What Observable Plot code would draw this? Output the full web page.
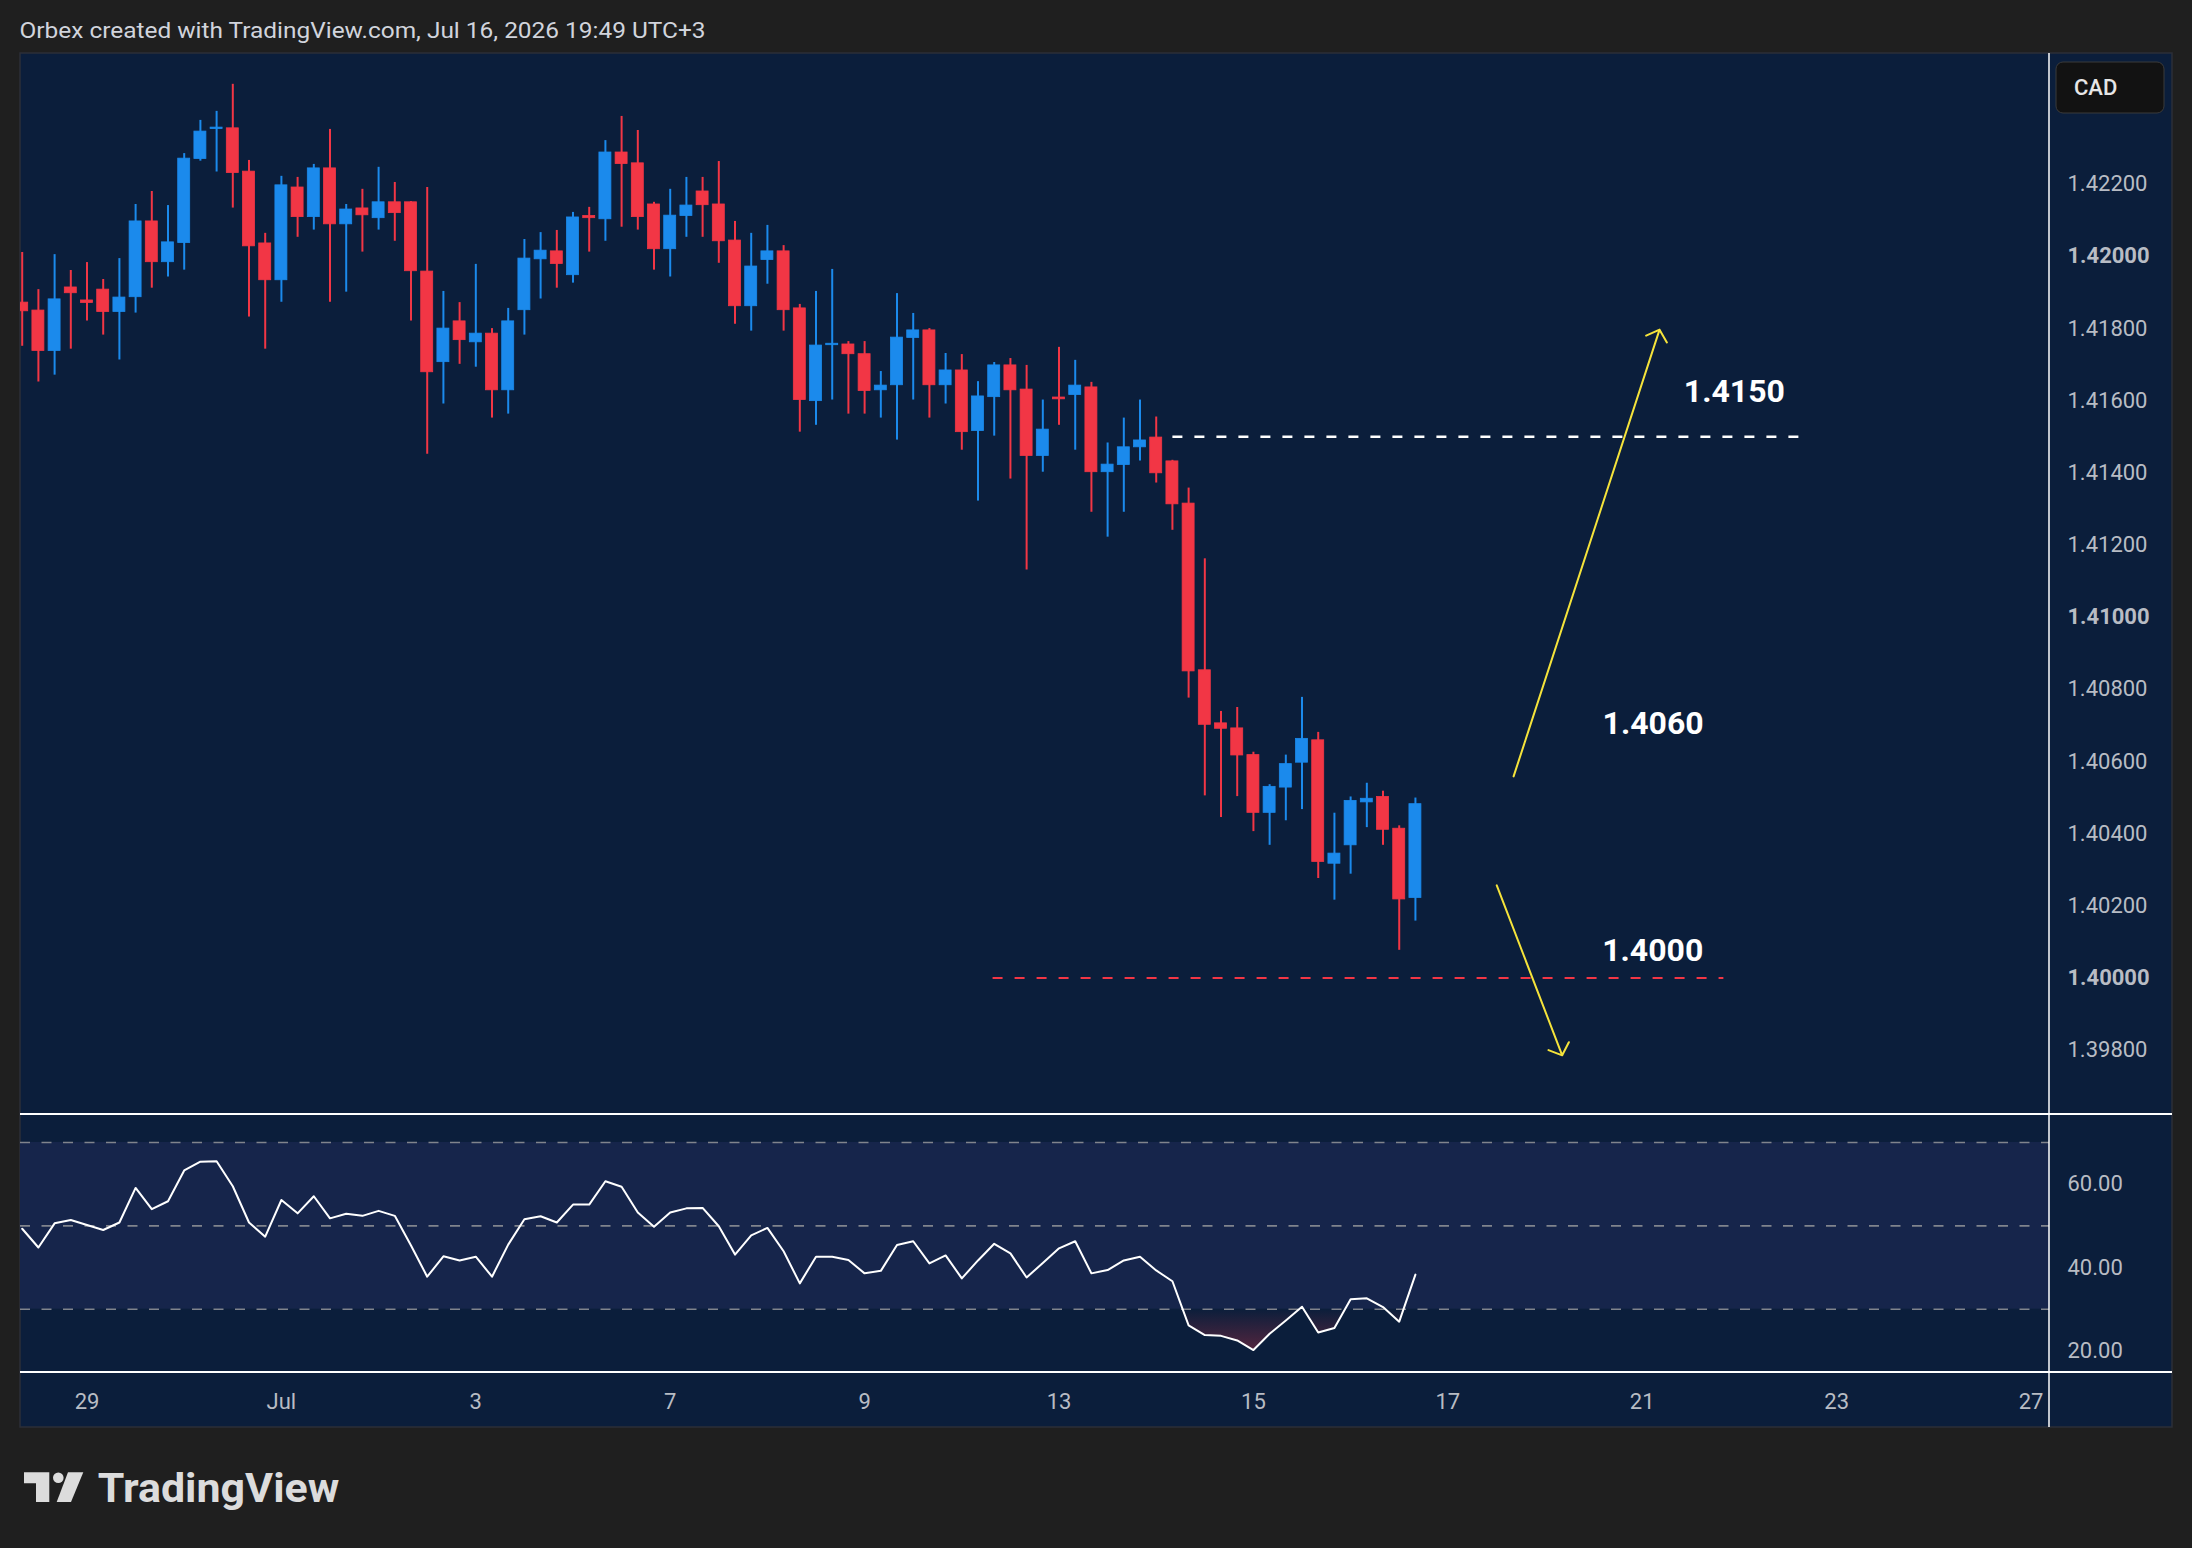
<!DOCTYPE html>
<html>
<head>
<meta charset="utf-8">
<title>USD/CAD 4H</title>
<script src="https://cdn.jsdelivr.net/npm/d3@7"></script>
<script src="https://cdn.jsdelivr.net/npm/@observablehq/plot@0.6"></script>
<style>
  html, body { margin: 0; padding: 0; background: #1f1f1f; }
  #page { position: relative; width: 2192px; height: 1548px; background: #1f1f1f; overflow: hidden; font-family: Roboto, sans-serif; }
  .layer { position: absolute; }
</style>
</head>
<body>
<div id="page">
  <svg id="chrome" class="layer" width="2192" height="1548" style="left:0;top:0">
    <text x="19.5" y="37.7" font-family="Roboto, sans-serif" font-size="22" fill="#d1d4dc" textLength="686" lengthAdjust="spacingAndGlyphs">Orbex created with TradingView.com, Jul 16, 2026 19:49 UTC+3</text>
    <rect x="20" y="53" width="2152" height="1374" fill="#0b1e3b" stroke="#2c2f38" stroke-width="1.5"></rect>
    <g fill="#dcdcdc">
      <path d="M24 1472.3H49.3V1502H36V1483.3H24Z"></path>
      <circle cx="58.3" cy="1477.7" r="5.3"></circle>
      <path d="M68 1472.3H83.3L71 1502H56.7Z"></path>
      <text x="97.7" y="1501.7" font-family="Roboto, sans-serif" font-size="41" font-weight="700" textLength="241.6" lengthAdjust="spacingAndGlyphs">TradingView</text>
    </g>
  </svg>
  <div id="mainPane" class="layer" style="left:20px;top:53px;width:2152px;height:1061px"></div>
  <div id="rsiPane" class="layer" style="left:20px;top:1114px;width:2152px;height:258px"></div>
  <div id="timePane" class="layer" style="left:20px;top:1372px;width:2152px;height:55px"></div>
  <svg id="overlay" class="layer" width="2192" height="1548" style="left:0;top:0;pointer-events:none">
    <line x1="20" x2="2172" y1="1114" y2="1114" stroke="#ffffff" stroke-width="2"></line>
    <line x1="20" x2="2172" y1="1372" y2="1372" stroke="#ffffff" stroke-width="2"></line>
    <line x1="2049" x2="2049" y1="53" y2="1427" stroke="#ffffff" stroke-width="1.5"></line>
    <rect x="2056" y="62" width="108" height="51" rx="7" fill="#121212" stroke="#3a3a3a" stroke-width="1"></rect>
    <text x="2074" y="94.5" font-family="Roboto, sans-serif" font-size="22" font-weight="500" fill="#e6e6e6">CAD</text>
  </svg>
</div>
<script>
// ---- 4H candles, USD/CAD (bar index 0 = first visible bar) ----
const opens = [
  1.41872, 1.41850, 1.41738, 1.41914, 1.41878, 1.41908, 1.41846, 1.41887, 1.42097, 1.41984,
  1.42037, 1.42270, 1.42353, 1.42355, 1.42235, 1.42036, 1.41934, 1.42191, 1.42109, 1.42244,
  1.42089, 1.42133, 1.42106, 1.42150, 1.42150, 1.41958, 1.41707, 1.41820, 1.41762, 1.41786,
  1.41629, 1.41851, 1.41992, 1.42014, 1.41948, 1.42112, 1.42103, 1.42288, 1.42258, 1.42144,
  1.42020, 1.42112, 1.42180, 1.42144, 1.42044, 1.41862, 1.41990, 1.42014, 1.41856, 1.41599,
  1.41754, 1.41756, 1.41729, 1.41629, 1.41643, 1.41774, 1.41795, 1.41643, 1.41684, 1.41516,
  1.41610, 1.41698, 1.41631, 1.41447, 1.41609, 1.41616, 1.41637, 1.41402, 1.41422, 1.41471,
  1.41498, 1.41432, 1.41315, 1.40853, 1.40706, 1.40692, 1.40618, 1.40458, 1.40528, 1.40597,
  1.40659, 1.40317, 1.40368, 1.40487, 1.40502, 1.40414, 1.40222
];
const highs = [
  1.42011, 1.41908, 1.42005, 1.41961, 1.41983, 1.41936, 1.41994, 1.42144, 1.42180, 1.42141,
  1.42285, 1.42377, 1.42402, 1.42477, 1.42266, 1.42064, 1.42222, 1.42219, 1.42255, 1.42352,
  1.42144, 1.42186, 1.42247, 1.42205, 1.42152, 1.42191, 1.41903, 1.41872, 1.41978, 1.41800,
  1.41856, 1.42047, 1.42066, 1.42072, 1.42122, 1.42136, 1.42321, 1.42388, 1.42349, 1.42150,
  1.42186, 1.42219, 1.42219, 1.42263, 1.42097, 1.42064, 1.42086, 1.42030, 1.41867, 1.41903,
  1.41964, 1.41764, 1.41764, 1.41681, 1.41897, 1.41842, 1.41800, 1.41731, 1.41728, 1.41653,
  1.41706, 1.41717, 1.41698, 1.41602, 1.41748, 1.41712, 1.41651, 1.41483, 1.41552, 1.41602,
  1.41555, 1.41435, 1.41358, 1.41162, 1.40739, 1.40750, 1.40626, 1.40536, 1.40618, 1.40778,
  1.40681, 1.40457, 1.40502, 1.40540, 1.40518, 1.40422, 1.40499
];
const lows = [
  1.41751, 1.41652, 1.41671, 1.41743, 1.41821, 1.41782, 1.41713, 1.41843, 1.41912, 1.41943,
  1.41962, 1.42264, 1.42234, 1.42134, 1.41832, 1.41743, 1.41873, 1.42053, 1.42073, 1.41873,
  1.41901, 1.42012, 1.42073, 1.42042, 1.41821, 1.41452, 1.41591, 1.41701, 1.41693, 1.41552,
  1.41563, 1.41782, 1.41882, 1.41912, 1.41926, 1.42012, 1.42042, 1.42081, 1.42073, 1.41962,
  1.41943, 1.42053, 1.42053, 1.41981, 1.41812, 1.41793, 1.41923, 1.41793, 1.41513, 1.41532,
  1.41602, 1.41563, 1.41563, 1.41552, 1.41491, 1.41602, 1.41552, 1.41591, 1.41463, 1.41322,
  1.41502, 1.41383, 1.41131, 1.41402, 1.41532, 1.41463, 1.41291, 1.41222, 1.41291, 1.41433,
  1.41372, 1.41241, 1.40776, 1.40505, 1.40445, 1.40503, 1.40406, 1.40368, 1.40436, 1.40467,
  1.40276, 1.40216, 1.40288, 1.40417, 1.40368, 1.40077, 1.40158
];
const closes = [
  1.41848, 1.41738, 1.41881, 1.41898, 1.41871, 1.41846, 1.41886, 1.42097, 1.41984, 1.42039,
  1.42271, 1.42346, 1.42357, 1.42231, 1.42028, 1.41934, 1.42197, 1.42109, 1.42244, 1.42089,
  1.42130, 1.42114, 1.42150, 1.42120, 1.41959, 1.41679, 1.41800, 1.41768, 1.41786, 1.41629,
  1.41820, 1.41994, 1.42016, 1.41979, 1.42108, 1.42106, 1.42288, 1.42256, 1.42109, 1.42020,
  1.42113, 1.42141, 1.42142, 1.42042, 1.41862, 1.41972, 1.42014, 1.41851, 1.41602, 1.41753,
  1.41758, 1.41729, 1.41627, 1.41642, 1.41775, 1.41795, 1.41643, 1.41684, 1.41513, 1.41612,
  1.41698, 1.41629, 1.41447, 1.41520, 1.41604, 1.41642, 1.41402, 1.41423, 1.41471, 1.41490,
  1.41399, 1.41313, 1.40850, 1.40702, 1.40691, 1.40617, 1.40458, 1.40530, 1.40593, 1.40663,
  1.40322, 1.40345, 1.40491, 1.40497, 1.40411, 1.40218, 1.40482
];
// RSI(14) per bar
const rsiValues = [
  49.3, 44.8, 50.6, 51.4, 50.2, 49.0, 50.8, 59.1, 54.0, 55.9,
  63.3, 65.4, 65.5, 59.5, 50.8, 47.4, 56.2, 53.0, 57.1, 51.8,
  52.9, 52.4, 53.6, 52.4, 45.3, 37.8, 42.7, 41.7, 42.6, 37.8,
  45.5, 51.6, 52.3, 50.8, 55.1, 55.1, 60.7, 59.4, 53.2, 49.8,
  53.2, 54.2, 54.3, 49.9, 43.1, 47.7, 49.5, 43.9, 36.2, 42.6,
  42.6, 41.8, 38.6, 39.2, 45.4, 46.3, 41.0, 42.9, 37.4, 41.7,
  45.7, 43.4, 37.6, 41.1, 44.6, 46.3, 38.6, 39.4, 41.7, 42.6,
  39.3, 36.7, 26.1, 23.8, 23.6, 22.5, 20.2, 24.1, 27.3, 30.6,
  24.4, 25.5, 32.4, 32.6, 30.5, 27.0, 38.3
];
// Day boundaries on the time axis (bar index of each day's first 4H bar)
const dayTickBars = [4, 16, 28, 40, 52, 64, 76, 88, 100, 112, 124];
const dayTickLabels = ["29", "Jul", "3", "7", "9", "13", "15", "17", "21", "23", "27"];
// Price axis
const priceTicks = [1.398, 1.402, 1.404, 1.406, 1.408, 1.412, 1.414, 1.416, 1.418, 1.422];
const priceTicksRound = [1.400, 1.410, 1.420];
const rsiTicks = [20, 40, 60];
const rsiLevels = [30, 50, 70];
// Key levels and scenario arrows
const resistanceLevel = {price: 1.4150, fromBar: 71.03, toBar: 109.67};
const supportLevel = {price: 1.4000, fromBar: 59.93, toBar: 105.04};
const pivotLabel = {price: 1.4060, bar: 97.55, at: 1.40705};
const scenarioArrows = [
  {bar1: 92.06, p1: 1.40559, bar2: 101.07, p2: 1.41797},
  {bar1: 91.02, p1: 1.40257, bar2: 95.06, p2: 1.39786}
];

// ---- styling ----
const BLUE = "#1b8aec", RED = "#f23645", YELLOW = "#f5e33b";
const AXIS_TEXT = "#b8bcc4";
const BAND = "#16254b";
const X_DOMAIN = [-0.105, 125.14];
const FONT = "Roboto, sans-serif";
const baseStyle = {background: "transparent", fontFamily: FONT, overflow: "hidden"};

const candles = opens.map((o, i) => ({i, open: o, high: highs[i], low: lows[i], close: closes[i]}));
const upBars = candles.filter(d => d.close >= d.open);
const downBars = candles.filter(d => d.close < d.open);
const HALF = 0.37;

const levelLabels = [
  {text: resistanceLevel.price.toFixed(4), bar: 102.57, at: 1.41624},
  {text: pivotLabel.price.toFixed(4), bar: pivotLabel.bar, at: pivotLabel.at},
  {text: supportLevel.price.toFixed(4), bar: 97.53, at: 1.40075}
];

function candleMarks(data, color) {
  return [
    Plot.ruleX(data, {x: "i", y1: "low", y2: "high", stroke: color, strokeWidth: 2}),
    Plot.rect(data, {
      x1: d => d.i - HALF, x2: d => d.i + HALF,
      y1: d => Math.min(d.open, d.close), y2: d => Math.max(d.open, d.close),
      fill: color, stroke: color, strokeWidth: 0.8
    })
  ];
}

const axisText = {anchor: "right", tickSize: 0, tickPadding: 18, fontSize: 22, color: AXIS_TEXT, letterSpacing: 0.8, label: null};

const mainChart = Plot.plot({
  width: 2152, height: 1061,
  marginLeft: 0, marginRight: 123, marginTop: 0, marginBottom: 0,
  x: {domain: X_DOMAIN, axis: null},
  y: {domain: [1.39622, 1.425624], axis: null},
  style: baseStyle,
  marks: [
    ...candleMarks(downBars, RED),
    ...candleMarks(upBars, BLUE),
    Plot.ruleY([resistanceLevel], {y: "price", x1: "fromBar", x2: "toBar", stroke: "#ffffff", strokeWidth: 2.5, strokeDasharray: "10,12"}),
    Plot.ruleY([supportLevel], {y: "price", x1: "fromBar", x2: "toBar", stroke: RED, strokeWidth: 2, strokeDasharray: "10,12"}),
    Plot.arrow(scenarioArrows, {x1: "bar1", y1: "p1", x2: "bar2", y2: "p2", stroke: YELLOW, strokeWidth: 2, headLength: 11, headAngle: 96}),
    Plot.text(levelLabels, {x: "bar", y: "at", text: "text", textAnchor: "start", fontSize: 32, fontWeight: "bold", fill: "#ffffff", letterSpacing: 1}),
    Plot.axisY(priceTicks, {...axisText, tickFormat: d => d.toFixed(5)}),
    Plot.axisY(priceTicksRound, {...axisText, tickFormat: d => d.toFixed(5), fontWeight: "bold"})
  ]
});
document.getElementById("mainPane").appendChild(mainChart);

const rsiPoints = rsiValues.map((v, i) => ({i, rsi: v}));
const rsiChart = Plot.plot({
  width: 2152, height: 258,
  marginLeft: 0, marginRight: 123, marginTop: 0, marginBottom: 0,
  x: {domain: X_DOMAIN, axis: null},
  y: {domain: [14.81, 76.72], axis: null},
  style: baseStyle,
  marks: [
    Plot.rect([{lo: 30, hi: 70}], {y1: "lo", y2: "hi", fill: BAND}),
    Plot.ruleY(rsiLevels, {stroke: "#80848d", strokeWidth: 1.6, strokeDasharray: "10,11.5"}),
    Plot.areaY(rsiPoints, {x: "i", y1: 30, y2: "rsi", fill: "url(#rsiOversold)"}),
    Plot.line(rsiPoints, {x: "i", y: "rsi", stroke: "#ffffff", strokeWidth: 2}),
    Plot.axisY(rsiTicks, {...axisText, tickFormat: d => d.toFixed(2)})
  ]
});
// oversold glow: transparent at the 30 line, deepening toward the bottom of the pane
{
  const ys = rsiChart.scale("y");
  const defs = d3.select(rsiChart).insert("defs", ":first-child");
  const grad = defs.append("linearGradient")
    .attr("id", "rsiOversold")
    .attr("gradientUnits", "userSpaceOnUse")
    .attr("x1", 0).attr("x2", 0)
    .attr("y1", ys.apply(30)).attr("y2", ys.apply(14.81));
  grad.append("stop").attr("offset", 0).attr("stop-color", RED).attr("stop-opacity", 0);
  grad.append("stop").attr("offset", 1).attr("stop-color", RED).attr("stop-opacity", 0.48);
}
document.getElementById("rsiPane").appendChild(rsiChart);

const dayTicks = dayTickBars.map((b, k) => ({i: b, label: dayTickLabels[k]}));
const timeChart = Plot.plot({
  width: 2152, height: 55,
  marginLeft: 0, marginRight: 123, marginTop: 0, marginBottom: 0,
  x: {domain: X_DOMAIN, axis: null},
  style: baseStyle,
  marks: [
    Plot.text(dayTicks, {x: "i", text: "label", frameAnchor: "middle", dy: 2, fontSize: 22, fill: AXIS_TEXT})
  ]
});
document.getElementById("timePane").appendChild(timeChart);
</script>
</body>
</html>
